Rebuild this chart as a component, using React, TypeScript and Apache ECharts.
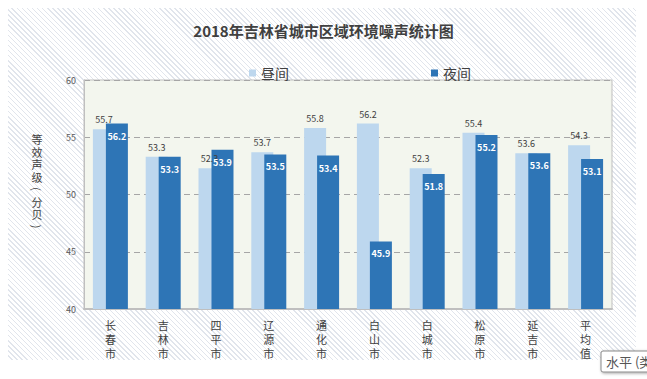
import React, { useEffect, useRef } from "react";
import * as echarts from "echarts";

const categories = ["长春市", "吉林市", "四平市", "辽源市", "通化市", "白山市", "白城市", "松原市", "延吉市", "平均值"];
const dayValues = [55.7, 53.3, 52.3, 53.7, 55.8, 56.2, 52.3, 55.4, 53.6, 54.3];
const nightValues = [56.2, 53.3, 53.9, 53.5, 53.4, 45.9, 51.8, 55.2, 53.6, 53.1];
const seriesNames = ["昼间", "夜间"];
const titleText = "2018年吉林省城市区域环境噪声统计图";
const yAxisTitleChars = ["等", "效", "声", "级", "(", "分", "贝", ")"];

export default function App() {
  const ref = useRef<HTMLDivElement>(null);
  useEffect(() => {
    if (!ref.current) return;
    const chart = echarts.init(ref.current, null, { renderer: "svg" });
    const font = "'Noto Sans CJK SC', 'Noto Sans', sans-serif";
    const yTitle = yAxisTitleChars.map((ch, i) => {
      const paren = ch === "(" || ch === ")";
      return {
        type: "text",
        x: 37,
        y: 139 + i * 12.5,
        rotation: paren ? -Math.PI / 2 : 0,
        style: { text: ch, fontSize: 11, fill: "#404040", fontFamily: font, align: "center", verticalAlign: "middle" },
      };
    });
    chart.setOption({
      animation: false,
      textStyle: { fontFamily: font },
      title: {
        text: titleText,
        left: "center",
        top: 18,
        textStyle: { fontSize: 15, fontWeight: "bold", color: "#404040", fontFamily: font },
      },
      legend: {
        data: seriesNames,
        left: 244,
        top: 61,
        icon: "rect",
        itemWidth: 7,
        itemHeight: 7,
        itemGap: 142,
        textStyle: { fontSize: 14, color: "#404040", fontFamily: font },
      },
      grid: {
        left: 84,
        right: 35,
        top: 80,
        bottom: 70,
        show: true,
        backgroundColor: "#f3f6ee",
        borderColor: "#bfbfbf",
        borderWidth: 1,
      },
      xAxis: {
        type: "category",
        data: categories,
        axisLine: { lineStyle: { color: "#bfbfbf", width: 2 } },
        axisTick: { show: false },
        axisLabel: {
          interval: 0,
          margin: 9,
          color: "#404040",
          fontSize: 11,
          lineHeight: 14,
          formatter: (v: string) => v.split("").join("\n"),
        },
      },
      yAxis: {
        type: "value",
        min: 40,
        max: 60,
        interval: 5,
        axisLine: { show: true, lineStyle: { color: "#bfbfbf" } },
        axisTick: { show: false },
        axisLabel: { color: "#595959", fontSize: 9, margin: 8 },
        splitLine: { lineStyle: { color: "#a6a6a6", type: [6, 4] } },
      },
      series: [
        {
          name: seriesNames[0],
          type: "bar",
          data: dayValues,
          barWidth: 22,
          barGap: "-41%",
          itemStyle: { color: "#bdd7ee" },
          label: { show: true, position: "top", distance: 5, color: "#404040", fontSize: 9 },
        },
        {
          name: seriesNames[1],
          type: "bar",
          data: nightValues,
          barWidth: 22,
          itemStyle: { color: "#2e75b6" },
          label: { show: true, position: "insideTop", distance: 8, color: "#ffffff", fontSize: 9, fontWeight: "bold" },
        },
      ],
      graphic: [
        ...yTitle,
        {
          type: "rect",
          shape: { x: 601, y: 351, width: 60, height: 21, r: 2 },
          style: { fill: "#ffffff", stroke: "#8a8a8a", lineWidth: 1, shadowBlur: 3, shadowColor: "rgba(0,0,0,0.35)", shadowOffsetX: 1, shadowOffsetY: 1 },
        },
        {
          type: "text",
          x: 606,
          y: 355,
          style: { text: "水平 (类别) 轴", fontSize: 13, fill: "#555555", fontFamily: font },
        },
      ],
    });
    return () => chart.dispose();
  }, []);
  return (
    <div style={{ position: "absolute", left: 0, top: 0, width: 647, height: 379, background: "#ffffff", overflow: "hidden" }}>
      <div
        style={{
          position: "absolute",
          left: 8,
          top: 8,
          width: 628,
          height: 352,
          background: "repeating-linear-gradient(45deg, #ffffff 0px, #ffffff 2.6px, #e1e5ec 2.6px, #e1e5ec 3.6px)",
        }}
      />
      <div ref={ref} style={{ position: "absolute", left: 0, top: 0, width: 647, height: 379 }} />
    </div>
  );
}
